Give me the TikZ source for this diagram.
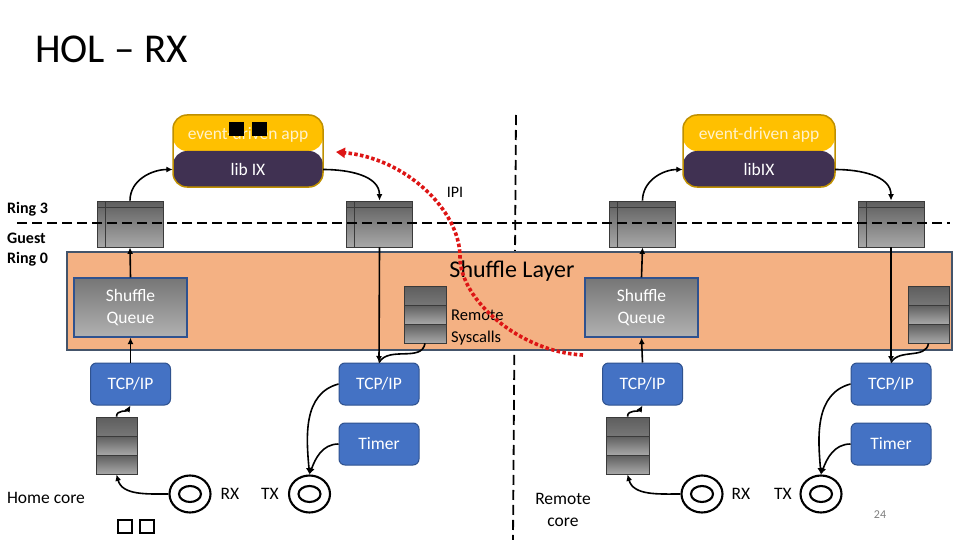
\documentclass[tikz,border=0pt]{standalone}
\usepackage{fontspec}
\setmainfont{Carlito}
\usetikzlibrary{arrows.meta,shapes.geometric,calc}
\definecolor{appyel}{HTML}{FFC000}
\definecolor{appbord}{HTML}{BF9000}
\definecolor{apppur}{HTML}{403152}
\definecolor{apptxt}{HTML}{FFF2CC}
\definecolor{shlfill}{HTML}{F4B183}
\definecolor{shlbord}{HTML}{44546A}
\definecolor{tcpfill}{HTML}{4472C4}
\definecolor{tcpbord}{HTML}{2F528F}
\definecolor{qtop}{HTML}{5E5E5E}
\definecolor{qbot}{HTML}{A8A8A8}
\definecolor{qbord}{HTML}{3A3A3A}
\definecolor{ipired}{HTML}{DD1515}
\begin{document}
\begin{tikzpicture}[x=1pt,y=-1pt,
  lbl/.style={inner sep=0pt, font=\fontsize{17.5}{20}\selectfont},
  blbl/.style={inner sep=0pt, font=\fontsize{16}{19}\selectfont\bfseries, anchor=west},
  appbox/.style={draw=appbord, line width=1.5pt, rounded corners=14pt, minimum height=72pt, inner sep=0pt,
    path picture={
      \fill[appyel] (path picture bounding box.north west) rectangle (path picture bounding box.east);
      \fill[apppur] (path picture bounding box.west) rectangle (path picture bounding box.south east);}},
  evtxt/.style={inner sep=0pt, text=apptxt, font=\fontsize{17.5}{20}\selectfont},
  libtxt/.style={inner sep=0pt, minimum height=35pt, text=white, font=\fontsize{17.5}{20}\selectfont},
  rq/.style={draw=qbord, line width=0.8pt, top color=qtop, bottom color=qbot, minimum width=66pt, minimum height=46pt, inner sep=0pt,
    path picture={
      \draw[qbord, line width=0.8pt] ([xshift=8pt]path picture bounding box.north west) -- ([xshift=8pt]path picture bounding box.south west);
      \draw[qbord, line width=0.8pt] ([yshift=-6pt]path picture bounding box.north west) -- ([yshift=-6pt]path picture bounding box.north east);}},
  stk/.style={draw=qbord, line width=0.8pt, minimum width=42pt, minimum height=57pt, inner sep=0pt,
    path picture={
      \foreach \k in {0,1,2}{
        \shade[top color=qtop, bottom color=qbot]
          ($(path picture bounding box.north west)!{\k/3}!(path picture bounding box.south west)$) rectangle
          ($(path picture bounding box.north east)!{(\k+1)/3}!(path picture bounding box.south east)$);}
      \foreach \k in {1,2}{
        \draw[qbord, line width=0.8pt]
          ($(path picture bounding box.north west)!{\k/3}!(path picture bounding box.south west)$) --
          ($(path picture bounding box.north east)!{\k/3}!(path picture bounding box.south east)$);}}},
  sq/.style={draw=tcpbord, line width=1.2pt, top color=qtop!85!white, bottom color=qbot!90!white, minimum width=113pt, minimum height=59pt, inner sep=0pt,
    align=center, text=white, font=\fontsize{17.5}{22}\selectfont},
  tcp/.style={draw=tcpbord, line width=1pt, fill=tcpfill, rounded corners=6pt, minimum width=80pt, minimum height=42pt, inner sep=0pt,
    text=white, font=\fontsize{17.5}{20}\selectfont},
  nic/.style={ellipse, draw, line width=2.1pt, minimum width=41pt, minimum height=37pt, inner sep=0pt,
    path picture={\draw[line width=2.1pt] (path picture bounding box.center) ellipse [x radius=11pt, y radius=8pt];}},
  arr/.style={line width=1.6pt, -{Latex[length=6.5pt,width=6pt]}},
  ln/.style={line width=1.6pt},
  dsh/.style={line width=1.8pt, dash pattern=on 10pt off 5pt},
  ipi/.style={draw=ipired, line width=3.6pt, dash pattern=on 3.5pt off 2.3pt, -{Triangle[length=9pt,width=10pt]}}
]
\useasboundingbox (0,0) rectangle (960,540);
\fill[white] (0,0) rectangle (960,540);

% title
\node[anchor=base west, inner sep=0pt, font=\fontsize{41}{48}\selectfont] (title) at (35,63) {HOL – RX};

% vertical dashed separator
\coordinate (vt) at (516,115);
\coordinate (vb) at (513,540);
\draw[dsh] (vt) -- (vb);

% shuffle layer
\node[draw=shlbord, fill=shlfill, line width=1.8pt, minimum width=885pt, minimum height=98pt, inner sep=0pt] (shl) at (509.5,301) {};
\node[inner sep=0pt, font=\fontsize{24}{28}\selectfont] (shltxt) at (512,271) {Shuffle Layer};

% apps
\node[appbox, minimum width=150pt] (appL) at (248,151) {};
\node[evtxt] (evL) at (248,135) {event-driven app};
\node[libtxt, minimum width=150pt] (libL) at (248,169.5) {lib IX};
\node[appbox, minimum width=152pt] (appR) at (759,151) {};
\node[evtxt] (evR) at (759,135) {event-driven app};
\node[libtxt, minimum width=152pt] (libR) at (759,169.5) {libIX};

% broken glyph squares
\fill (229,122) rectangle (244,136);
\fill (252,122) rectangle (267,136);

% ring queues
\node[rq] (rq1) at (130,224) {};
\node[rq] (rq2) at (379.5,224) {};
\node[rq] (rq3) at (642.5,224) {};
\node[rq] (rq4) at (891,224) {};

% shuffle queues
\node[sq] (sqL) at (130.5,307.5) {Shuffle\\Queue};
\node[sq] (sqR) at (641.5,307.5) {Shuffle\\Queue};

% remote syscall stacks
\node[stk] (rsL) at (425,314.5) {};
\node[stk, minimum width=41pt] (rsR) at (928.5,314.5) {};
\node[anchor=west, inner sep=0pt, align=left, font=\fontsize{16.5}{22}\selectfont] (rstxt) at (451,328) {Remote\\Syscalls};

% TCP/IP and timers
\node[tcp] (tcp1) at (130.5,384) {TCP/IP};
\node[tcp] (tcp2) at (379,384) {TCP/IP};
\node[tcp] (tim1) at (379,444) {Timer};
\node[tcp] (tcp3) at (642.5,384) {TCP/IP};
\node[tcp] (tcp4) at (891,384) {TCP/IP};
\node[tcp] (tim2) at (891,444) {Timer};

% NIC stacks
\node[stk, minimum width=41pt] (stk1) at (116.5,445.5) {};
\node[stk, minimum width=43pt] (stk2) at (627.5,445.5) {};

% NIC rings
\node[nic] (rx1) at (190,494) {};
\node[nic] (tx1) at (309.5,494) {};
\node[nic] (rx2) at (702,494) {};
\node[nic] (tx2) at (821,494) {};
\node[lbl] (rx1t) at (230,494) {RX};
\node[lbl] (tx1t) at (270,494) {TX};
\node[lbl] (rx2t) at (741,494) {RX};
\node[lbl] (tx2t) at (783,494) {TX};

% labels
\node[blbl] (r3) at (7,209) {Ring 3};
\node[blbl] (gu) at (7,238) {Guest};
\node[blbl] (r0) at (7,259) {Ring 0};
\node[lbl] (home) at (46,498) {Home core};
\node[lbl, align=center, font=\fontsize{17.5}{22}\selectfont] (remc) at (563,510) {Remote\\core};
\node[inner sep=0pt, text=gray, font=\fontsize{12}{14}\selectfont] (pg) at (880,515) {24};
\node[inner sep=0pt, font=\fontsize{16}{19}\selectfont] (ipit) at (455,192) {IPI};

% empty glyph boxes
\draw[line width=1.5pt] (118,520) rectangle (132,533);
\draw[line width=1.5pt] (140,520) rectangle (154,533);

% connectors, home core
\draw[arr] (rq1.north) to[out=90,in=180] (libL.west);
\draw[arr] (libL.east) to[out=0,in=90] (rq2.north);
\draw[arr] (rq2.south) -- (tcp2.north);
\draw[ln] (rsL.south) to[out=-100,in=60] (tcp2.north);
\draw[arr] (sqL.north) -- (rq1.south);
\draw[arr] (tcp1.north) -- (sqL.south);
\draw[arr] (stk1.north) to[out=90,in=-120] (tcp1.south);
\draw[arr] (rx1.west) to[out=180,in=-75] (stk1.south);
\draw[arr] (tcp2.west) to[out=195,in=95] (tx1.north);
\draw[arr] (tim1.west) to[out=180,in=70] (tx1.north);

% connectors, remote core
\draw[arr] (rq3.north) to[out=90,in=180] (libR.west);
\draw[arr] (libR.east) to[out=0,in=90] (rq4.north);
\draw[arr] (rq4.south) -- (tcp4.north);
\draw[ln] (rsR.south) to[out=-100,in=60] (tcp4.north);
\draw[arr] (sqR.north) -- (rq3.south);
\draw[arr] (tcp3.north) -- (sqR.south);
\draw[arr] (stk2.north) to[out=90,in=-120] (tcp3.south);
\draw[arr] (rx2.west) to[out=180,in=-75] (stk2.south);
\draw[arr] (tcp4.west) to[out=195,in=95] (tx2.north);
\draw[arr] (tim2.west) to[out=180,in=70] (tx2.north);

% horizontal dashed ring boundary
\coordinate (hl) at (17,223);
\coordinate (hr) at (950,223);
\draw[dsh] (hl) -- (hr);

% IPI
\coordinate (ipiS) at (583,355);
\coordinate (ipiE) at (336,152);
\draw[ipi] (ipiS) .. controls (520,352) and (460,300) .. (460,257) .. controls (460,210) and (405,158) .. (ipiE);
\end{tikzpicture}
\end{document}
